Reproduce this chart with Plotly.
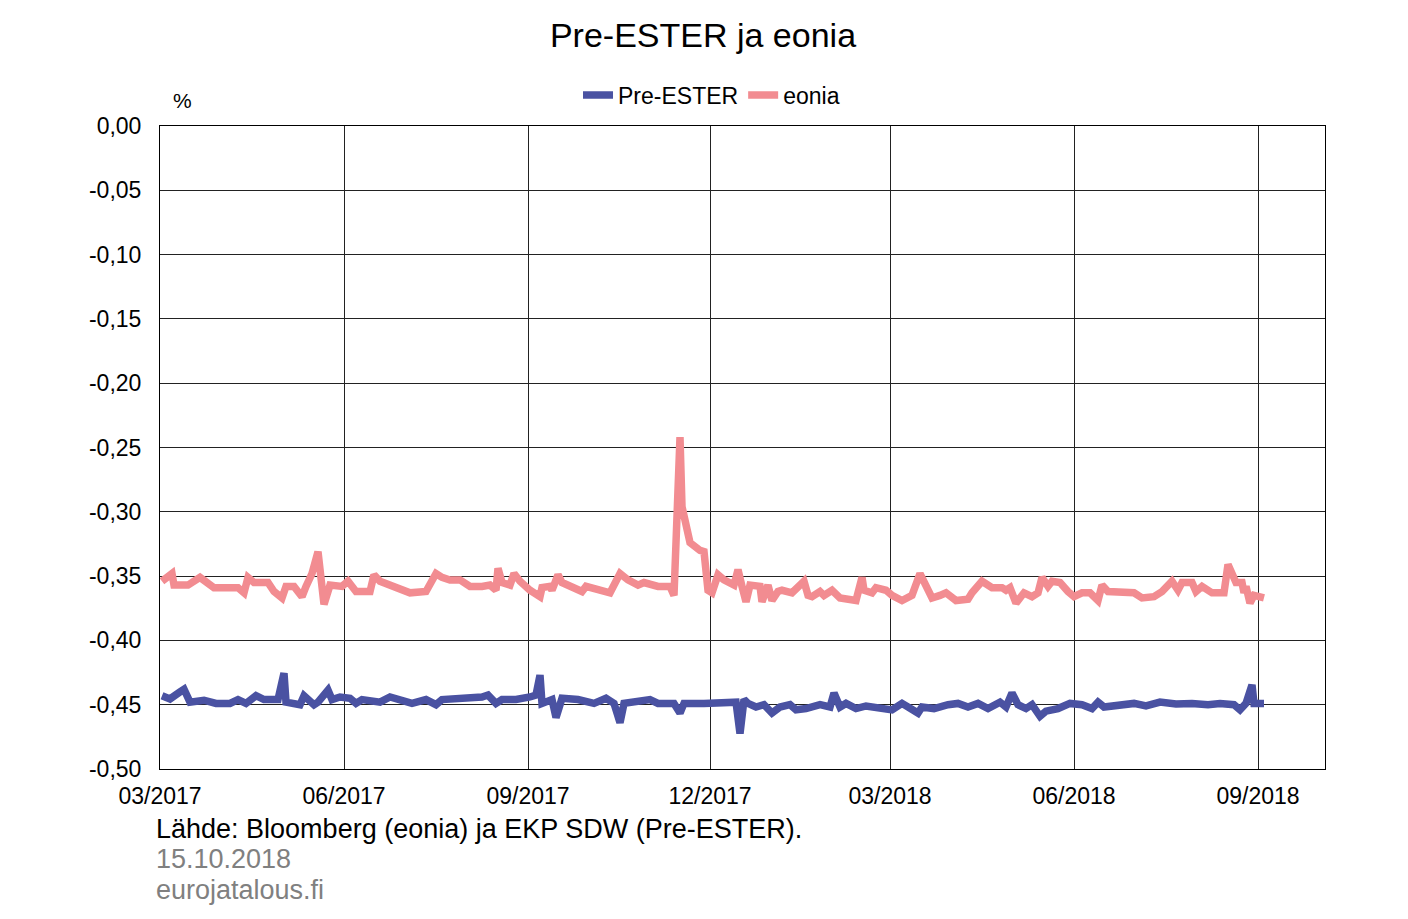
import plotly.graph_objects as go

# ---- data ----
eonia_dates = [
    "2017-03-02", "2017-03-07", "2017-03-08", "2017-03-15", "2017-03-21", "2017-03-28",
    "2017-04-09", "2017-04-12", "2017-04-14", "2017-04-17", "2017-04-24", "2017-04-27",
    "2017-05-01", "2017-05-03", "2017-05-07", "2017-05-11", "2017-05-13", "2017-05-16",
    "2017-05-19", "2017-05-22", "2017-05-25", "2017-05-31", "2017-06-03", "2017-06-06",
    "2017-06-07", "2017-06-14", "2017-06-16", "2017-06-19", "2017-06-25", "2017-07-04",
    "2017-07-12", "2017-07-17", "2017-07-20", "2017-07-24", "2017-07-29", "2017-08-03",
    "2017-08-09", "2017-08-13", "2017-08-16", "2017-08-17", "2017-08-19", "2017-08-23",
    "2017-08-25", "2017-08-28", "2017-09-02", "2017-09-07", "2017-09-08", "2017-09-12",
    "2017-09-13", "2017-09-16", "2017-09-18", "2017-09-23", "2017-09-28", "2017-09-30",
    "2017-10-06", "2017-10-12", "2017-10-17", "2017-10-21", "2017-10-26", "2017-10-29",
    "2017-11-05", "2017-11-11", "2017-11-13", "2017-11-16", "2017-11-17", "2017-11-21",
    "2017-11-26", "2017-11-28", "2017-11-30", "2017-12-02", "2017-12-05", "2017-12-08",
    "2017-12-13", "2017-12-15", "2017-12-17", "2017-12-19", "2017-12-21", "2017-12-26",
    "2017-12-27", "2017-12-30", "2018-01-01", "2018-01-04", "2018-01-06", "2018-01-11",
    "2018-01-17", "2018-01-19", "2018-01-21", "2018-01-25", "2018-01-27", "2018-01-31",
    "2018-02-04", "2018-02-09", "2018-02-12", "2018-02-15", "2018-02-16", "2018-02-20",
    "2018-02-22", "2018-02-27", "2018-03-02", "2018-03-07", "2018-03-12", "2018-03-16",
    "2018-03-19", "2018-03-22", "2018-03-26", "2018-03-29", "2018-04-03", "2018-04-09",
    "2018-04-11", "2018-04-16", "2018-04-21", "2018-04-26", "2018-04-28", "2018-04-30",
    "2018-05-03", "2018-05-07", "2018-05-11", "2018-05-14", "2018-05-16", "2018-05-19",
    "2018-05-21", "2018-05-25", "2018-05-29", "2018-06-01", "2018-06-05", "2018-06-09",
    "2018-06-13", "2018-06-15", "2018-06-18", "2018-06-25", "2018-07-01", "2018-07-05",
    "2018-07-11", "2018-07-15", "2018-07-20", "2018-07-23", "2018-07-25", "2018-07-30",
    "2018-08-01", "2018-08-04", "2018-08-09", "2018-08-15", "2018-08-17", "2018-08-19",
    "2018-08-21", "2018-08-24", "2018-08-25", "2018-08-26", "2018-08-28", "2018-08-30",
    "2018-09-01", "2018-09-04",
]
eonia_values = [
    -0.354, -0.348, -0.357, -0.357, -0.351, -0.359,
    -0.359, -0.363, -0.351, -0.355, -0.355, -0.362,
    -0.367, -0.358, -0.358, -0.366, -0.358, -0.348,
    -0.331, -0.372, -0.357, -0.358, -0.354, -0.361,
    -0.362, -0.362, -0.349, -0.354, -0.358, -0.363,
    -0.362, -0.348, -0.351, -0.353, -0.353, -0.358,
    -0.358, -0.357, -0.361, -0.344, -0.355, -0.357,
    -0.348, -0.354, -0.361, -0.366, -0.359, -0.358,
    -0.361, -0.349, -0.355, -0.359, -0.362, -0.358,
    -0.361, -0.363, -0.348, -0.353, -0.357, -0.355,
    -0.358, -0.358, -0.365, -0.242, -0.296, -0.324,
    -0.330, -0.331, -0.361, -0.363, -0.349, -0.353,
    -0.357, -0.345, -0.358, -0.370, -0.357, -0.358,
    -0.370, -0.357, -0.369, -0.362, -0.361, -0.363,
    -0.354, -0.365, -0.366, -0.362, -0.365, -0.361,
    -0.367, -0.369, -0.369, -0.351, -0.361, -0.363,
    -0.359, -0.361, -0.365, -0.369, -0.365, -0.348,
    -0.359, -0.367, -0.365, -0.363, -0.369, -0.368,
    -0.363, -0.354, -0.359, -0.359, -0.361, -0.359,
    -0.371, -0.363, -0.366, -0.363, -0.351, -0.358,
    -0.354, -0.355, -0.362, -0.366, -0.363, -0.363,
    -0.369, -0.357, -0.362, -0.362, -0.363, -0.367,
    -0.366, -0.362, -0.354, -0.361, -0.355, -0.355,
    -0.362, -0.358, -0.363, -0.363, -0.341, -0.348,
    -0.355, -0.355, -0.363, -0.358, -0.371, -0.365,
    -0.366, -0.367,
]

preester_dates = [
    "2017-03-02", "2017-03-06", "2017-03-11", "2017-03-13", "2017-03-16", "2017-03-23",
    "2017-03-29", "2017-04-05", "2017-04-09", "2017-04-13", "2017-04-18", "2017-04-22",
    "2017-04-29", "2017-05-02", "2017-05-03", "2017-05-10", "2017-05-12", "2017-05-17",
    "2017-05-19", "2017-05-24", "2017-05-26", "2017-05-30", "2017-06-04", "2017-06-07",
    "2017-06-10", "2017-06-19", "2017-06-24", "2017-06-29", "2017-07-05", "2017-07-12",
    "2017-07-17", "2017-07-20", "2017-08-01", "2017-08-09", "2017-08-12", "2017-08-16",
    "2017-08-19", "2017-08-26", "2017-09-02", "2017-09-05", "2017-09-07", "2017-09-08",
    "2017-09-13", "2017-09-15", "2017-09-18", "2017-09-26", "2017-10-04", "2017-10-10",
    "2017-10-14", "2017-10-17", "2017-10-19", "2017-10-24", "2017-11-01", "2017-11-05",
    "2017-11-13", "2017-11-16", "2017-11-18", "2017-11-28", "2017-12-05", "2017-12-12",
    "2017-12-14", "2017-12-16", "2017-12-18", "2017-12-20", "2017-12-24", "2017-12-28",
    "2018-01-01", "2018-01-05", "2018-01-10", "2018-01-13", "2018-01-18", "2018-01-25",
    "2018-01-30", "2018-02-01", "2018-02-04", "2018-02-07", "2018-02-12", "2018-02-17",
    "2018-02-24", "2018-03-02", "2018-03-07", "2018-03-11", "2018-03-15", "2018-03-17",
    "2018-03-23", "2018-03-30", "2018-04-04", "2018-04-09", "2018-04-14", "2018-04-19",
    "2018-04-25", "2018-04-28", "2018-05-01", "2018-05-04", "2018-05-08", "2018-05-11",
    "2018-05-15", "2018-05-18", "2018-05-24", "2018-05-30", "2018-06-05", "2018-06-10",
    "2018-06-13", "2018-06-16", "2018-06-23", "2018-07-01", "2018-07-07", "2018-07-14",
    "2018-07-22", "2018-07-30", "2018-08-07", "2018-08-13", "2018-08-20", "2018-08-23",
    "2018-08-26", "2018-08-29", "2018-08-30", "2018-09-04",
]
preester_values = [
    -0.443, -0.4455, -0.440, -0.438, -0.448, -0.4465,
    -0.449, -0.449, -0.446, -0.449, -0.443, -0.446,
    -0.446, -0.4255, -0.448, -0.450, -0.443, -0.450,
    -0.448, -0.4386, -0.446, -0.444, -0.445, -0.449,
    -0.446, -0.448, -0.444, -0.446, -0.449, -0.446,
    -0.450, -0.446, -0.445, -0.444, -0.4425, -0.449,
    -0.446, -0.446, -0.444, -0.4425, -0.427, -0.449,
    -0.446, -0.460, -0.445, -0.446, -0.449, -0.445,
    -0.449, -0.464, -0.449, -0.448, -0.446, -0.449,
    -0.449, -0.4565, -0.449, -0.449, -0.449, -0.449,
    -0.448, -0.4725, -0.446, -0.449, -0.4518, -0.450,
    -0.4565, -0.4518, -0.450, -0.454, -0.453, -0.450,
    -0.4518, -0.4409, -0.4518, -0.449, -0.453, -0.451,
    -0.453, -0.454, -0.449, -0.453, -0.4565, -0.4518,
    -0.453, -0.450, -0.449, -0.4518, -0.449, -0.453,
    -0.448, -0.4518, -0.4409, -0.450, -0.453, -0.450,
    -0.459, -0.455, -0.453, -0.449, -0.450, -0.453,
    -0.448, -0.4518, -0.450, -0.449, -0.451, -0.448,
    -0.4495, -0.449, -0.450, -0.449, -0.450, -0.454,
    -0.449, -0.4346, -0.449, -0.449,
]

y_tickvals = [0.0, -0.05, -0.10, -0.15, -0.20, -0.25, -0.30, -0.35, -0.40, -0.45, -0.50]
y_ticktext = ["0,00", "-0,05", "-0,10", "-0,15", "-0,20", "-0,25", "-0,30", "-0,35", "-0,40", "-0,45", "-0,50"]
x_tickvals = ["2017-03-01", "2017-06-01", "2017-09-01", "2017-12-01", "2018-03-01", "2018-06-01", "2018-09-01"]
x_ticktext = ["03/2017", "06/2017", "09/2017", "12/2017", "03/2018", "06/2018", "09/2018"]

FONT = "Liberation Sans, Arial, sans-serif"
BLUE = "#4A52A2"
PINK = "#F28C91"

fig = go.Figure()
fig.add_trace(go.Scatter(x=preester_dates, y=preester_values, mode="lines", name="Pre-ESTER",
                         line=dict(color=BLUE, width=7.5)))
fig.add_trace(go.Scatter(x=eonia_dates, y=eonia_values, mode="lines", name="eonia",
                         line=dict(color=PINK, width=7.5)))

fig.update_layout(
    width=1408, height=919,
    margin=dict(l=152, r=91, t=118, b=158),
    paper_bgcolor="white", plot_bgcolor="white",
    font=dict(family=FONT, size=23, color="black"),
    title=dict(text="Pre-ESTER ja eonia", x=0.4936, xanchor="center", y=0.9706, yanchor="middle",
               font=dict(size=34, family=FONT, color="black")),
    showlegend=True,
    legend=dict(orientation="h", x=0.4734, xanchor="center", y=1.048, yanchor="middle",
                font=dict(size=23), itemwidth=30, tracegroupgap=0, bgcolor="rgba(0,0,0,0)"),
    xaxis=dict(range=["2017-03-01", "2018-10-04 12:00"], tickvals=x_tickvals, ticktext=x_ticktext,
               showgrid=True, gridcolor="#222", gridwidth=1, showline=True, linecolor="black",
               linewidth=1, mirror=True, zeroline=False, ticks="", ticklabelstandoff=6,
               tickfont=dict(size=23)),
    yaxis=dict(range=[-0.5, 0.0], tickvals=y_tickvals, ticktext=y_ticktext,
               showgrid=True, gridcolor="#222", gridwidth=1, showline=True, linecolor="black",
               linewidth=1, mirror=True, zeroline=False, ticks="", ticklabelstandoff=13,
               tickfont=dict(size=23)),
    annotations=[
        dict(text="%", xref="paper", yref="paper", x=0.0197, y=1.0404, xanchor="center", yanchor="middle",
             showarrow=False, font=dict(size=21)),
        dict(text="Lähde: Bloomberg (eonia) ja EKP SDW (Pre-ESTER).", xref="paper", yref="paper",
             x=-0.0052, y=-0.0933, xanchor="left", yanchor="middle", showarrow=False,
             font=dict(size=27, color="black")),
        dict(text="15.10.2018", xref="paper", yref="paper", x=-0.0052, y=-0.140,
             xanchor="left", yanchor="middle", showarrow=False, font=dict(size=27, color="#808080")),
        dict(text="eurojatalous.fi", xref="paper", yref="paper", x=-0.0052, y=-0.188,
             xanchor="left", yanchor="middle", showarrow=False, font=dict(size=27, color="#808080")),
    ],
)

fig.write_html("out.html")
